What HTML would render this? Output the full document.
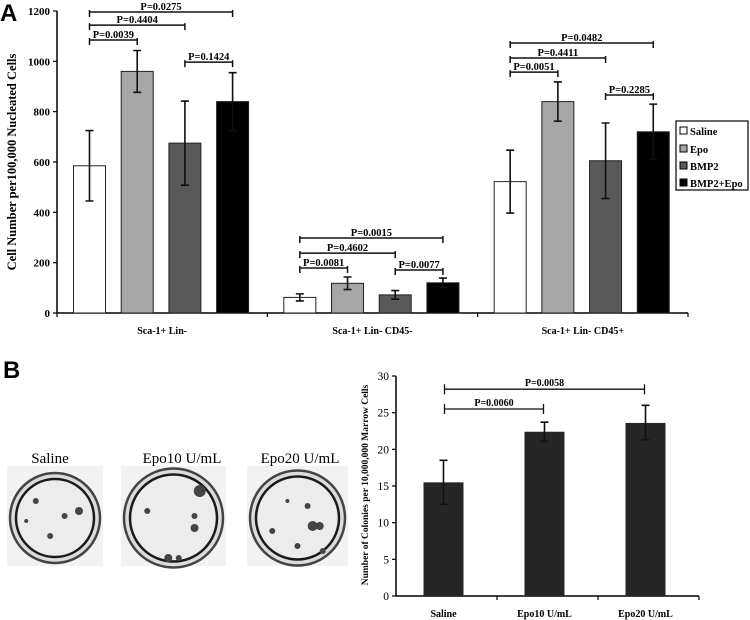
<!DOCTYPE html>
<html><head><meta charset="utf-8"><style>
html,body{margin:0;padding:0;background:#fff;}
svg{display:block;}
text{font-family:"Liberation Serif","Times New Roman",serif;}
</style></head><body>
<svg id="fig" width="750" height="620" viewBox="0 0 750 620">
<text x="0" y="21" style="font-family:'Liberation Sans',sans-serif" font-weight="bold" font-size="24">A</text>
<text x="3" y="378" style="font-family:'Liberation Sans',sans-serif" font-weight="bold" font-size="24">B</text>
<text transform="translate(16,162) rotate(-90)" text-anchor="middle" font-weight="bold" font-size="12.5">Cell Number  per100,000  Nucleated Cells</text>
<text transform="translate(368,485) rotate(-90)" text-anchor="middle" font-weight="bold" font-size="9.5">Number of Colonies per 10,000,000 Marrow Cells</text>
<g id="plates"></g>
<g id="chartA"></g>
<g id="chartB"></g>
<g>
<rect x="676" y="121" width="72" height="69" fill="#fff" stroke="#000" stroke-width="1.2"/>
<g><rect x="680" y="127" width="7" height="7" fill="#fff" stroke="#000"/><text x="690" y="135" font-weight="bold" font-size="10.5">Saline</text></g>
<g><rect x="680" y="145" width="7" height="7" fill="#a6a6a6" stroke="#000"/><text x="690" y="153" font-weight="bold" font-size="10.5">Epo</text></g>
<g><rect x="680" y="162" width="7" height="7" fill="#595959" stroke="#000"/><text x="690" y="170" font-weight="bold" font-size="10.5">BMP2</text></g>
<g><rect x="680" y="179" width="7" height="7" fill="#000" stroke="#000"/><text x="690" y="187" font-weight="bold" font-size="10.5">BMP2+Epo</text></g>
</g>
</svg>
<script>
const NS="http://www.w3.org/2000/svg";
// Panel A data
const groupsA=["Sca-1+ Lin-","Sca-1+ Lin- CD45-","Sca-1+ Lin- CD45+"];
const seriesNames=["Saline","Epo","BMP2","BMP2+Epo"];
const seriesColors=["#ffffff","#a6a6a6","#595959","#000000"];
const salineA=[585,62,522];
const epoA=[960,118,840];
const bmp2A=[675,72,605];
const bmp2EpoA=[840,120,720];
const salineErrA=[140,14,125];
const epoErrA=[83,25,78];
const bmp2ErrA=[167,17,150];
const bmp2EpoErrA=[115,19,110];
const ticksA=[0,200,400,600,800,1000,1200];
// brackets: group, from series, to series, level (data units), label
const bracketGroup=[0,0,0,0,1,1,1,1,2,2,2,2];
const bracketFrom=[0,0,0,2,0,0,0,2,0,0,0,2];
const bracketTo=[3,2,1,3,3,2,1,3,3,2,1,3];
const bracketLevel=[1196,1144,1085,997,298,238,179,171,1073,1013,957,866];
const bracketLabel=["P=0.0275","P=0.4404","P=0.0039","P=0.1424","P=0.0015","P=0.4602","P=0.0081","P=0.0077","P=0.0482","P=0.4411","P=0.0051","P=0.2285"];
// Panel B data
const catsB=["Saline","Epo10 U/mL","Epo20 U/mL"];
const valsB=[15.5,22.4,23.6];
const errHiB=[18.5,23.7,26.0];
const errLoB=[12.5,21.1,21.3];
const ticksB=[0,5,10,15,20,25,30];
const bFrom=[0,0];
const bTo=[2,1];
const bLevel=[28.2,25.5];
const bLabel=["P=0.0058","P=0.0060"];

function mk(tag,attrs,parent){const e=document.createElementNS(NS,tag);for(const k in attrs)e.setAttribute(k,attrs[k]);parent.appendChild(e);return e;}
function txt(s,attrs,parent){const e=mk("text",attrs,parent);e.textContent=s;return e;}

const A=document.getElementById("chartA");
const ax0=57, ax1=688, ay0=313, ayTop=11, aMax=1200;
const yA=v=>ay0-v*(ay0-ayTop)/aMax;
const bandW=(ax1-ax0)/groupsA.length;
const barX=(g,s)=>ax0+g*bandW+32.5+s*47.7;
const allVals=[salineA,epoA,bmp2A,bmp2EpoA];
const allErr=[salineErrA,epoErrA,bmp2ErrA,bmp2EpoErrA];
let l=mk("line",{x1:ax0,y1:ayTop,x2:ax0,y2:ay0,stroke:"#000","stroke-width":1.5},A);

l=mk("line",{x1:ax0,y1:ay0,x2:ax1,y2:ay0,stroke:"#000","stroke-width":1.5},A);

ticksA.forEach(t=>{
  mk("line",{x1:ax0-4,y1:yA(t),x2:ax0,y2:yA(t),stroke:"#000","stroke-width":1.2},A);
  const tt=txt(String(t),{x:ax0-7,y:yA(t)+4,"text-anchor":"end","font-weight":"bold","font-size":"11"},A);
  
});
for(let g=0;g<=groupsA.length;g++){
  mk("line",{x1:ax0+g*bandW,y1:ay0,x2:ax0+g*bandW,y2:ay0+4,stroke:"#000","stroke-width":1.2},A);
}
groupsA.forEach((name,g)=>{
  const t=txt(name,{x:ax0+(g+0.5)*bandW,y:334,"text-anchor":"middle","font-weight":"bold","font-size":"10"},A);
  
  allVals.forEach((vals,s)=>{
    const cx=barX(g,s), v=vals[g], e=allErr[s][g];
    const r=mk("rect",{x:cx-16,y:yA(v),width:32,height:ay0-yA(v),fill:seriesColors[s],stroke:"#222","stroke-width":1},A);
    
    
    const eb=mk("path",{d:`M${cx},${yA(v+e)}V${yA(v-e)}M${cx-4},${yA(v+e)}H${cx+4}M${cx-4},${yA(v-e)}H${cx+4}`,stroke:"#111","stroke-width":1.6,fill:"none"},A);
    
  });
});
bracketGroup.forEach((g,i)=>{
  const x1=barX(g,bracketFrom[i]), x2=barX(g,bracketTo[i]), y=yA(bracketLevel[i]);
  const p=mk("path",{d:`M${x1},${y}H${x2}M${x1},${y-2}V${y+5}M${x2},${y-2}V${y+5}`,stroke:"#111","stroke-width":1.5,fill:"none"},A);
  
  const t=txt(bracketLabel[i],{x:(x1+x2)/2,y:y-2,"text-anchor":"middle","font-weight":"bold","font-size":"10.5"},A);
  
});

const B=document.getElementById("chartB");
const bx0=396, bx1=699, by0=596, byTop=376, bMax=30;
const yB=v=>by0-v*(by0-byTop)/bMax;
const bBand=(bx1-bx0)/catsB.length;
const xB=i=>bx0+(i+0.5)*bBand-3;
l=mk("line",{x1:bx0,y1:byTop,x2:bx0,y2:by0,stroke:"#000","stroke-width":1.5},B);

l=mk("line",{x1:bx0,y1:by0,x2:bx1,y2:by0,stroke:"#000","stroke-width":1.5},B);

ticksB.forEach(t=>{
  mk("line",{x1:bx0-4,y1:yB(t),x2:bx0,y2:yB(t),stroke:"#000","stroke-width":1.2},B);
  const tt=txt(String(t),{x:bx0-7,y:yB(t)+4,"text-anchor":"end","font-size":"11.5"},B);
  
});
for(let i=1;i<=catsB.length;i++){
  mk("line",{x1:bx0+i*bBand,y1:by0,x2:bx0+i*bBand,y2:by0+4,stroke:"#000","stroke-width":1.2},B);
}
catsB.forEach((c,i)=>{
  const cx=xB(i);
  const r=mk("rect",{x:cx-20,y:yB(valsB[i]),width:40,height:by0-yB(valsB[i]),fill:"#262626"},B);
  
  
  const eb=mk("path",{d:`M${cx},${yB(errHiB[i])}V${yB(errLoB[i])}M${cx-4},${yB(errHiB[i])}H${cx+4}M${cx-4},${yB(errLoB[i])}H${cx+4}`,stroke:"#111","stroke-width":1.6,fill:"none"},B);
  
  const t=txt(c,{x:cx,y:617,"text-anchor":"middle","font-weight":"bold","font-size":"10"},B);
  
});
bFrom.forEach((f,i)=>{
  const x1=xB(f)+1, x2=xB(bTo[i])-1, y=yB(bLevel[i]);
  const p=mk("path",{d:`M${x1},${y}H${x2}M${x1},${y-5}V${y+5}M${x2},${y-5}V${y+5}`,stroke:"#111","stroke-width":1.3,fill:"none"},B);
  
  const t=txt(bLabel[i],{x:(x1+x2)/2,y:y-3,"text-anchor":"middle","font-weight":"bold","font-size":"10"},B);
  
});

// Plates (decorative photos)
const P=document.getElementById("plates");
const plateX=[7,121,247], plateW=[96,105,101], plateName=["Saline","Epo10 U/mL","Epo20 U/mL"], plateLabelX=[50,182,300];
const spots=[[[0.3,0.35,3],[0.75,0.45,4],[0.45,0.7,3],[0.6,0.5,3],[0.2,0.55,2]],
             [[0.75,0.25,6],[0.25,0.45,3],[0.7,0.5,3],[0.7,0.62,4],[0.45,0.92,4],[0.55,0.92,3]],
             [[0.65,0.6,5],[0.72,0.6,4],[0.25,0.65,3],[0.6,0.4,3],[0.5,0.8,3],[0.4,0.35,2],[0.75,0.85,3]]];
plateX.forEach((x,i)=>{
  const g=mk("g",{},P);
  
  
  mk("rect",{x:x,y:466,width:plateW[i],height:100,fill:"#f2f2f2"},g);
  const cx=x+plateW[i]/2, cy=518, r=plateW[i]/2-3;
  mk("circle",{cx:cx,cy:cy,r:r,fill:"#dcdcdc",stroke:"#444","stroke-width":2.5},g);
  mk("circle",{cx:cx,cy:cy,r:r-6,fill:"#ececec",stroke:"#1a1a1a","stroke-width":2.5},g);
  spots[i].forEach(s=>mk("circle",{cx:x+s[0]*plateW[i],cy:466+s[1]*100,r:s[2],fill:"#444"},g));
  const t=txt(plateName[i],{x:plateLabelX[i],y:463,"text-anchor":"middle","font-size":"15"},g);
  
});
</script>
</body></html>
